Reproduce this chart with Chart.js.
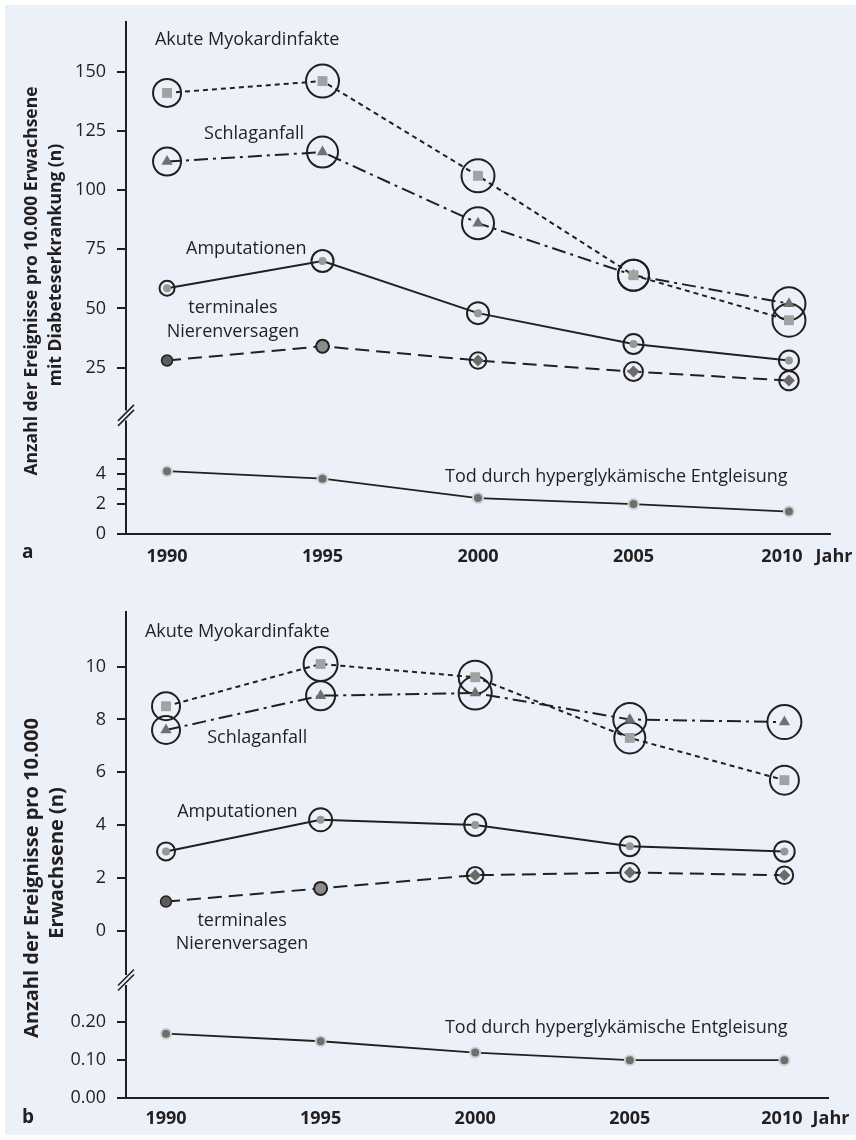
<!DOCTYPE html>
<html>
<head>
<meta charset="utf-8">
<script src="https://cdn.jsdelivr.net/npm/chart.js@4.4.1/dist/chart.umd.min.js"></script>
<style>
  html, body { margin: 0; padding: 0; background: #ffffff; }
  #wrap { position: relative; width: 856px; height: 1140px; overflow: hidden; }
  #bg { position: absolute; left: 5px; top: 5px; width: 851px; height: 1130px; background: #ecf1f9; }
  canvas { position: absolute; left: 0; }
  #chartA { top: 0; }
  #chartB { top: 575px; }
</style>
</head>
<body>
<div id="wrap">
  <div id="bg"></div>
  <canvas id="chartA" width="856" height="575"></canvas>
  <canvas id="chartB" width="856" height="565"></canvas>
</div>
<script>
// ---- data -------------------------------------------------------------
const years = [1990, 1995, 2000, 2005, 2010];
const yearLabels = ['1990', '1995', '2000', '2005', '2010'];

// a: events per 10,000 adults with diabetes
const aMyokard      = [141, 146, 106, 64, 45];
const aSchlaganfall = [112, 116, 86, 64, 52];
const aAmputation   = [58.5, 70, 48, 35, 28];
const aNieren       = [28, 34, 28, 23.3, 19.5];
const aTod          = [4.2, 3.7, 2.4, 2.0, 1.5];

// b: events per 10,000 adults
const bMyokard      = [8.5, 10.1, 9.6, 7.3, 5.7];
const bSchlaganfall = [7.6, 8.9, 9.0, 8.0, 7.9];
const bAmputation   = [3.0, 4.2, 4.0, 3.2, 3.0];
const bNieren       = [1.1, 1.6, 2.1, 2.2, 2.1];
const bTod          = [0.17, 0.15, 0.12, 0.10, 0.10];

// axis ticks
const aUpperTicks = [25, 50, 75, 100, 125, 150];
const aUpperTickLabels = ['25', '50', '75', '100', '125', '150'];
const aLowerTicks = [0, 2, 3, 4, 5];
const aLowerTickLabels = ['0', '2', '', '4', ''];
const bUpperTicks = [0, 2, 4, 6, 8, 10];
const bUpperTickLabels = ['0', '2', '4', '6', '8', '10'];
const bLowerTicks = [0, 0.1, 0.2];
const bLowerTickLabels = ['0.00', '0.10', '0.20'];

// ---- styling ----------------------------------------------------------
const INK = '#231f20';
const BG = '#ecf1f9';
const FONT = "'Open Sans', 'DejaVu Sans', sans-serif";

function pts(vals) { return years.map((x, i) => ({ x: x, y: vals[i] })); }

function lineSet(label, vals, axis, extra) {
  return Object.assign({
    label: label,
    data: pts(vals),
    yAxisID: axis,
    borderColor: INK,
    borderWidth: 2,
    fill: false,
    tension: 0,
    clip: false,
    pointBorderWidth: 0,
    pointBorderColor: INK,
    pointHoverRadius: 0
  }, extra);
}

function ringSet(vals, radii) {
  return {
    label: 'ring',
    data: pts(vals),
    yAxisID: 'yUpper',
    showLine: false,
    clip: false,
    pointStyle: 'circle',
    pointRadius: radii,
    pointHoverRadius: radii,
    pointBackgroundColor: 'rgba(0,0,0,0)',
    pointBorderColor: INK,
    pointBorderWidth: 2
  };
}

function panelDatasets(p) {
  return [
    lineSet('Akute Myokardinfakte', p.myokard, 'yUpper', {
      borderDash: [5, 4], pointStyle: 'rect', pointRadius: 7, pointBackgroundColor: '#a2a2a2'
    }),
    lineSet('Schlaganfall', p.schlag, 'yUpper', {
      borderDash: [14, 5, 3, 5], pointStyle: 'triangle', pointRadius: 6.5, pointBackgroundColor: '#717171'
    }),
    lineSet('Amputationen', p.amput, 'yUpper', {
      pointStyle: 'circle', pointRadius: 4, pointBackgroundColor: '#979797'
    }),
    lineSet('terminales Nierenversagen', p.nieren, 'yUpper', {
      borderDash: [14, 7],
      pointStyle: ['circle', 'circle', 'rectRot', 'rectRot', 'rectRot'],
      pointRadius: [5.5, 6.5, 6, 6, 6],
      pointBackgroundColor: ['#5c5c5c', '#8c8c8c', '#6b6b6b', '#6b6b6b', '#6b6b6b'],
      pointBorderColor: INK,
      pointBorderWidth: [1.5, 2, 0, 0, 0]
    }),
    lineSet('Tod durch hyperglykämische Entgleisung', p.tod, 'yLower', {
      borderWidth: 1.8, pointStyle: 'circle', pointRadius: 5,
      pointBackgroundColor: '#6e6e6e', pointBorderColor: '#d0d0d0', pointBorderWidth: 2
    }),
    ringSet(p.myokard, p.rings.myokard),
    ringSet(p.schlag, p.rings.schlag),
    ringSet(p.amput, p.rings.amput),
    ringSet(p.nieren, p.rings.nieren)
  ];
}

function yScale(min, max, weight, ticks, labels) {
  return {
    type: 'linear',
    position: 'left',
    stack: 'panel',
    stackWeight: weight,
    min: min,
    max: max,
    afterFit: s => { s.width = 60; },
    afterBuildTicks: s => { s.ticks = ticks.map(v => ({ value: v })); },
    ticks: {
      autoSkip: false,
      padding: 11,
      color: INK,
      font: { family: FONT, size: 18 },
      callback: (v) => { const i = ticks.indexOf(v); return i >= 0 ? labels[i] : ''; }
    },
    grid: {
      display: true, drawOnChartArea: false, drawTicks: true,
      tickLength: 9, tickWidth: 2, tickColor: INK, lineWidth: 2, color: INK
    },
    border: { display: true, color: INK, width: 2 }
  };
}

// Text, axis break and year labels drawn around each panel
const panelText = {
  id: 'panelText',
  afterDraw(chart, args, opts) {
    const ctx = chart.ctx;
    const xs = chart.scales.x;
    const yU = chart.scales.yUpper;
    const yL = chart.scales.yLower;
    ctx.save();

    // axis break on the y axis
    const bx = yU.right;
    const by = yU.bottom;
    ctx.fillStyle = BG;
    ctx.fillRect(bx - 3, by - 5, 6, 10);
    ctx.strokeStyle = INK;
    ctx.lineWidth = 1.6;
    [-2.5, 2.5].forEach(off => {
      ctx.beginPath();
      ctx.moveTo(bx - 8, by + 8 + off);
      ctx.lineTo(bx + 8, by - 8 + off);
      ctx.stroke();
    });

    // annotations inside the plot
    ctx.fillStyle = INK;
    ctx.font = '18px ' + FONT;
    ctx.textBaseline = 'middle';
    opts.notes.forEach(n => {
      const sc = n.axis === 'lower' ? yL : yU;
      ctx.textAlign = n.align || 'left';
      ctx.fillText(n.text, xs.getPixelForValue(n.x), sc.getPixelForValue(n.y));
    });

    // year labels
    ctx.font = 'bold 18px ' + FONT;
    ctx.textAlign = 'center';
    const ly = opts.labelY;
    years.forEach((yr, i) => {
      const nudge = i === years.length - 1 ? opts.lastNudge : 0;
      ctx.fillText(yearLabels[i], xs.getPixelForValue(yr) + nudge, ly);
    });
    ctx.fillText('Jahr', opts.unitX, ly);

    // panel letter
    ctx.textAlign = 'left';
    ctx.font = 'bold 19px ' + FONT;
    ctx.fillText(opts.letter, 22, opts.letterY);

    // rotated y-axis title
    ctx.font = 'bold ' + opts.titleSize + 'px ' + FONT;
    opts.title.forEach(t => {
      ctx.save();
      ctx.translate(t.x, t.y);
      ctx.rotate(-Math.PI / 2);
      ctx.textAlign = 'center';
      ctx.fillText(t.text, 0, 0);
      ctx.restore();
    });
    ctx.restore();
  }
};

function makeChart(id, cfg) {
  return new Chart(document.getElementById(id), {
    type: 'line',
    data: { datasets: panelDatasets(cfg.series) },
    plugins: [panelText],
    options: {
      responsive: false,
      animation: false,
      events: [],
      layout: { padding: cfg.padding },
      plugins: {
        legend: { display: false },
        tooltip: { enabled: false },
        panelText: cfg.text
      },
      scales: {
        x: {
          type: 'linear',
          position: 'bottom',
          min: cfg.xMin,
          max: cfg.xMax,
          afterFit: s => { s.height = 30; },
          ticks: { display: false },
          grid: { display: false },
          border: { display: true, color: INK, width: 2 }
        },
        yLower: yScale(cfg.lower.min, cfg.lower.max, cfg.lower.weight, cfg.lower.ticks, cfg.lower.labels),
        yUpper: yScale(cfg.upper.min, cfg.upper.max, cfg.upper.weight, cfg.upper.ticks, cfg.upper.labels)
      }
    }
  });
}

makeChart('chartA', {
  series: {
    myokard: aMyokard, schlag: aSchlaganfall, amput: aAmputation, nieren: aNieren, tod: aTod,
    rings: {
      myokard: [14, 16.5, 16.5, 15.5, 16.5],
      schlag: [14, 15.5, 16, 15.5, 16.5],
      amput: [7.5, 11, 11, 10, 10],
      nieren: [0, 0, 8.3, 9.5, 9.7]
    }
  },
  padding: { left: 66, right: 26, top: 20, bottom: 11 },
  xMin: 1988.68, xMax: 2011.32,
  upper: { min: 4.8, max: 171.04, weight: 395, ticks: aUpperTicks, labels: aUpperTickLabels },
  lower: { min: 0, max: 7.93, weight: 119, ticks: aLowerTicks, labels: aLowerTickLabels },
  text: {
    notes: [
      { text: 'Akute Myokardinfakte', x: 1989.61, y: 163.5 },
      { text: 'Schlaganfall', x: 1991.19, y: 123.5 },
      { text: 'Amputationen', x: 1990.61, y: 75.1 },
      { text: 'terminales', x: 1992.12, y: 50.3, align: 'center' },
      { text: 'Nierenversagen', x: 1992.12, y: 40.1, align: 'center' },
      { text: 'Tod durch hyperglykämische Entgleisung', x: 1998.94, y: 3.8, axis: 'lower' }
    ],
    labelY: 557, lastNudge: -7, unitX: 834,
    letter: 'a', letterY: 553,
    titleSize: 17.5,
    title: [
      { text: 'Anzahl der Ereignisse pro 10.000 Erwachsene', x: 32, y: 281 },
      { text: 'mit Diabeteserkrankung (n)', x: 56, y: 265 }
    ]
  }
});

makeChart('chartB', {
  series: {
    myokard: bMyokard, schlag: bSchlaganfall, amput: bAmputation, nieren: bNieren, tod: bTod,
    rings: {
      myokard: [14, 17, 16.5, 15.5, 14.5],
      schlag: [14, 14.5, 16.5, 16.5, 17],
      amput: [9, 11.5, 11, 10, 10.3],
      nieren: [0, 0, 8.3, 9.5, 8.8]
    }
  },
  padding: { left: 66, right: 28, top: 37, bottom: 12 },
  xMin: 1988.706, xMax: 2011.41,
  upper: { min: -1.87, max: 12.07, weight: 368, ticks: bUpperTicks, labels: bUpperTickLabels },
  lower: { min: 0, max: 0.312, weight: 118, ticks: bLowerTicks, labels: bLowerTickLabels },
  text: {
    notes: [
      { text: 'Akute Myokardinfakte', x: 1989.32, y: 11.33 },
      { text: 'Schlaganfall', x: 1991.33, y: 7.3 },
      { text: 'Amputationen', x: 1990.36, y: 4.51 },
      { text: 'terminales', x: 1992.46, y: 0.365, align: 'center' },
      { text: 'Nierenversagen', x: 1992.46, y: -0.5, align: 'center' },
      { text: 'Tod durch hyperglykämische Entgleisung', x: 1999.02, y: 0.185, axis: 'lower' }
    ],
    labelY: 544, lastNudge: -2.5, unitX: 831,
    letter: 'b', letterY: 543,
    titleSize: 20,
    title: [
      { text: 'Anzahl der Ereignisse pro 10.000', x: 32, y: 303 },
      { text: 'Erwachsene (n)', x: 57, y: 288 }
    ]
  }
});
</script>
</body>
</html>
